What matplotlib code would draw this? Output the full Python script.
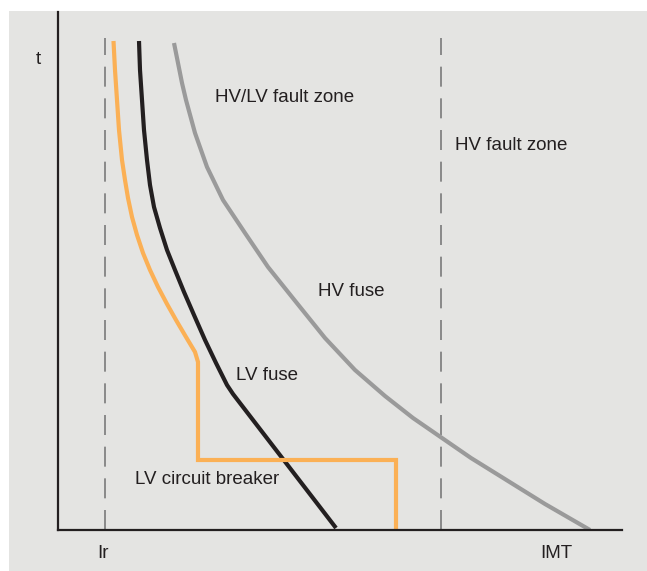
import numpy as np
import matplotlib.pyplot as plt
from matplotlib.patches import Rectangle

plt.rcParams['font.family'] = ['Liberation Sans', 'DejaVu Sans']

# current (x) and time (t) in arbitrary units
lv_cb_x = [55.5, 57, 59, 61, 64, 67, 70, 74, 79, 85, 92, 100, 109, 118, 128, 137, 140, 140, 338, 338]
lv_cb_t = [489, 460, 430, 400, 370, 350, 332, 313, 295, 277, 260, 243, 226, 210, 193, 178, 168, 70, 70, 0]

lv_fuse_x = [81, 82, 84, 86, 89, 92, 96, 102, 109, 117, 126, 136, 147, 158, 169, 175, 278]
lv_fuse_t = [489, 460, 430, 400, 370, 345, 323, 302, 280, 260, 238, 215, 190, 167, 145, 136, 2]

hv_fuse_x = [116, 120, 124, 128, 137, 149, 165, 187, 210, 238, 267, 297, 327, 355,
             384, 413, 442, 487, 532]
hv_fuse_t = [487, 467, 447, 430, 397, 363, 330, 297, 263, 228, 192, 160, 134, 112,
             92, 72, 54, 26, 0]

ir_x = 47
imt_x = 383

ink = '#231f20'

fig = plt.figure(figsize=(6.47, 5.71), dpi=100, facecolor='white')
fig.patches.append(Rectangle((9 / 647, 0), 1, 1 - 11 / 571, transform=fig.transFigure,
                             facecolor='#e4e4e2', edgecolor='none', zorder=-10))

ax = fig.add_axes([58 / 647, 41 / 571, 564 / 647, 518 / 571])
ax.set_facecolor('none')
ax.set_xlim(0, 564)
ax.set_ylim(0, 518)

for s in ['top', 'right']:
    ax.spines[s].set_visible(False)
for s in ['left', 'bottom']:
    ax.spines[s].set_color(ink)
    ax.spines[s].set_linewidth(1.6)
ax.set_xticks([])
ax.set_yticks([])

for xv in [ir_x, imt_x]:
    ax.plot([xv, xv], [0, 492], color='#7a7a7a', lw=1.2, dashes=(12, 7))

kw = dict(lw=3, solid_capstyle='butt', solid_joinstyle='round')
ax.plot(hv_fuse_x, hv_fuse_t, color='#9a9a9a', **kw)
ax.plot(lv_fuse_x, lv_fuse_t, color=ink, **kw)
ax.plot(lv_cb_x, lv_cb_t, color='#fbb055', lw=3, solid_capstyle='butt', solid_joinstyle='miter')

fs = 13.5
ax.text(157, 432, 'HV/LV fault zone', fontsize=fs, color=ink, va='center')
ax.text(397, 384, 'HV fault zone', fontsize=fs, color=ink, va='center')
ax.text(260, 238, 'HV fuse', fontsize=fs, color=ink, va='center')
ax.text(178, 155, 'LV fuse', fontsize=fs, color=ink, va='center')
ax.text(77, 50, 'LV circuit breaker', fontsize=fs, color=ink, va='center')

ax.text(-20, 470, 't', fontsize=fs, color=ink, ha='center', va='center')
ax.text(ir_x - 2, -23, 'Ir', fontsize=fs, color=ink, ha='center', va='center')
ax.text(498, -23, 'IMT', fontsize=fs, color=ink, ha='center', va='center')

fig.savefig('out.png', dpi=100, facecolor=fig.get_facecolor())
